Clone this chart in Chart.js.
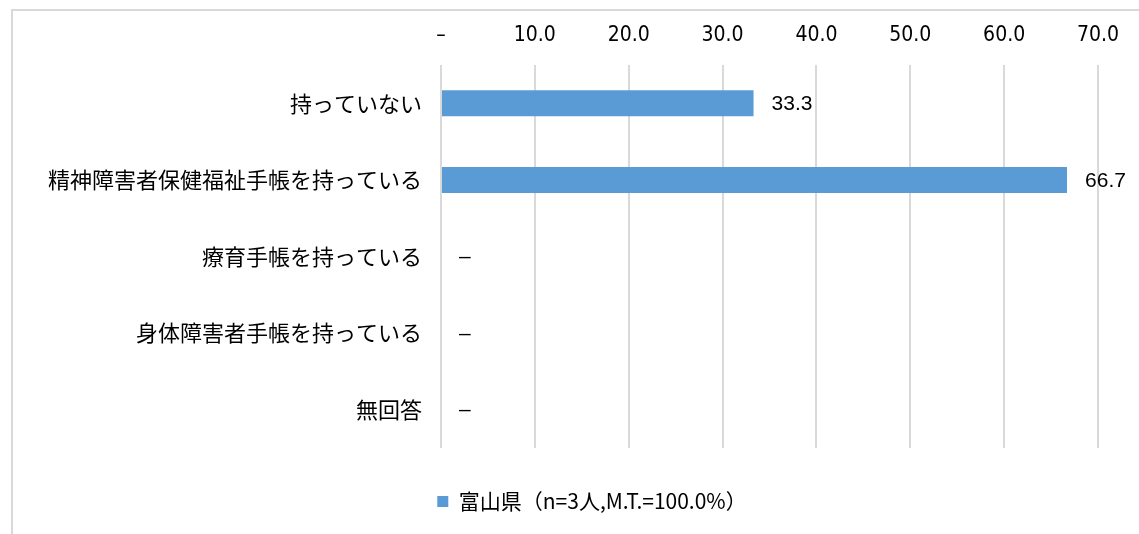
<!DOCTYPE html>
<html lang="ja">
<head>
    <meta charset="UTF-8">
    <title>手帳の所持状況</title>
    <script src="https://cdn.jsdelivr.net/npm/chart.js"></script>
    <style>
      html, body { margin: 0; padding: 0; background: #fff; overflow: hidden; }
      #frame { position: absolute; left: 11px; top: 9px; width: 1200px; height: 600px; border: 2px solid #d9d9d9; }
      #wrap { position: absolute; left: 0; top: 0; width: 1139px; height: 534px; }
    </style>
</head>
<body>
    <div id="frame"></div>
    <div id="wrap">
      <canvas id="myChart" width="1139" height="534"></canvas>
    </div>

    <script>
      // categories and values (percent)
      const categories = ['持っていない', '精神障害者保健福祉手帳を持っている', '療育手帳を持っている', '身体障害者手帳を持っている', '無回答'];
      const values = [33.3, 66.7, 0, 0, 0];
      const seriesLabel = '富山県（n=3人,M.T.=100.0%）';
      const tickMax = 70;
      const tickStep = 10;

      const jpFont = "'Noto Sans CJK JP', 'Noto Sans', sans-serif";
      const numFont = "'DejaVu Sans Condensed', 'Liberation Sans Narrow', 'Liberation Sans', sans-serif";

      // draw value labels right of each bar, zero shown as dash
      const valueLabels = {
        id: 'valueLabels',
        afterDatasetsDraw(chart) {
          const ctx = chart.ctx;
          const meta = chart.getDatasetMeta(0);
          ctx.save();
          ctx.font = "21px 'Liberation Sans', Arial, sans-serif";
          ctx.fillStyle = '#000';
          ctx.textAlign = 'left';
          ctx.textBaseline = 'middle';
          meta.data.forEach((bar, i) => {
            const v = values[i];
            const text = v === 0 ? '–' : v.toFixed(1);
            ctx.fillText(text, bar.x + 18, bar.y + 1);
          });
          ctx.restore();
        }
      };

      // nudge the legend a bit right of the canvas centre
      const legendShift = {
        id: 'legendShift',
        afterLayout(chart) {
          chart.legend.left += 43;
          chart.legend.right += 43;
        }
      };

      new Chart(document.getElementById('myChart'), {
        type: 'bar',
        data: {
          labels: categories,
          datasets: [{
            label: seriesLabel,
            data: values,
            backgroundColor: '#5b9bd5',
            borderWidth: 0,
            barPercentage: 0.34,
            categoryPercentage: 1
          }]
        },
        options: {
          indexAxis: 'y',
          responsive: false,
          animation: false,
          layout: { padding: { left: 0, right: 41, top: 0, bottom: 12 } },
          scales: {
            x: {
              position: 'top',
              min: 0,
              max: tickMax,
              grid: { color: '#d9d9d9', lineWidth: 2, drawTicks: false },
              border: { display: false },
              ticks: {
                stepSize: tickStep,
                padding: 17,
                color: '#000',
                font: { family: numFont, size: 21 },
                callback: (v) => v === 0 ? '–' : v.toFixed(1)
              },
              afterFit: (scale) => { scale.height = 65; }
            },
            y: {
              grid: { display: false },
              border: { display: false },
              ticks: {
                padding: 11,
                color: '#000',
                font: { family: jpFont, size: 22 }
              },
              afterFit: (scale) => { scale.width = 441; }
            }
          },
          plugins: {
            legend: {
              position: 'bottom',
              labels: {
                boxWidth: 11,
                boxHeight: 11,
                padding: 43,
                color: '#000',
                font: { family: jpFont, size: 21 }
              }
            },
            tooltip: { enabled: false }
          }
        },
        plugins: [valueLabels, legendShift]
      });
    </script>
</body>
</html>
